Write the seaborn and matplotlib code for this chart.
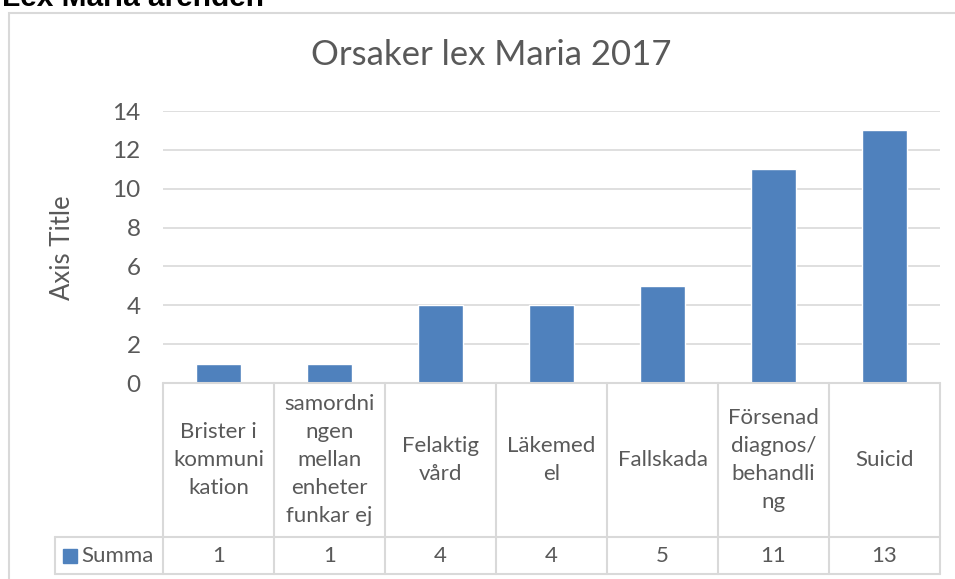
import seaborn as sns
import matplotlib.pyplot as plt
import matplotlib.patches as mpatches
from matplotlib.transforms import blended_transform_factory

# Data
kategorier = ["Brister i\nkommuni\nkation",
              "samordni\nngen\nmellan\nenheter\nfunkar ej",
              "Felaktig\nvård",
              "Läkemed\nel",
              "Fallskada",
              "Försenad\ndiagnos/\nbehandli\nng",
              "Suicid"]
summa = [1, 1, 4, 4, 5, 11, 13]
serie_namn = "Summa"
y_ticks = [0, 2, 4, 6, 8, 10, 12, 14]

W, H = 955, 579
bar_color = "#4f81bd"
text_color = "#595959"
line_color = "#d9d9d9"

sns.set_theme(style="white")
plt.rcParams['font.family'] = ['Lato', 'DejaVu Sans']

fig = plt.figure(figsize=(W / 100, H / 100), dpi=100)

def fx(px):
    return px / W

def fy(py):
    return 1 - py / H

# Chart frame
fig.add_artist(mpatches.Rectangle((fx(9), fy(700)), fx(1000), fy(13) - fy(700),
                                  transform=fig.transFigure, fill=False,
                                  edgecolor=line_color, lw=1.5))

# Header above the chart (partially cut off)
fig.text(fx(2), fy(6), "Lex Maria ärenden", fontsize=21.5, weight="bold",
         family=["Liberation Sans", "DejaVu Sans"], color="black", va="baseline")

ax = fig.add_axes([fx(163), fy(383), fx(940) - fx(163), fy(111) - fy(383)])
sns.barplot(x=list(range(len(summa))), y=summa, color=bar_color, saturation=1,
            width=0.4, ax=ax)
ax.set_xlim(-0.5, len(summa) - 0.5)
ax.set_ylim(0, 14)
ax.set_yticks(y_ticks)
ax.set_yticklabels([str(t) for t in y_ticks], color=text_color, fontsize=17.5)
ax.set_xticks([])
ax.set_xlabel("")
ax.set_ylabel("")
ax.tick_params(axis="y", length=0, pad=16)
ax.yaxis.grid(True, color=line_color, lw=1.2)
ax.set_axisbelow(True)
for s in ["left", "right", "top", "bottom"]:
    ax.spines[s].set_visible(False)

fig.text(fx(62), (fy(200) + fy(295)) / 2, "Axis Title", rotation=90, fontsize=18.5,
         color=text_color, ha="center", va="center")
fig.text(fx(491), fy(55), "Orsaker lex Maria 2017", fontsize=25, color=text_color,
         ha="center", va="center")

# Data table under the chart
tr = blended_transform_factory(ax.transData, fig.transFigure)
n = len(summa)
top, mid, bot = fy(383), fy(537), fy(574)
for i in range(n + 1):
    xb = i - 0.5
    ax.plot([xb, xb], [top, bot], transform=tr, color=line_color, lw=1.5, clip_on=False)
ax.plot([-0.5, n - 0.5], [top, top], transform=tr, color=line_color, lw=1.5, clip_on=False)
fig.add_artist(plt.Line2D([fx(55), fx(940)], [mid, mid], color=line_color, lw=1.5))
fig.add_artist(plt.Line2D([fx(55), fx(940)], [bot, bot], color=line_color, lw=1.5))
fig.add_artist(plt.Line2D([fx(55), fx(55)], [mid, bot], color=line_color, lw=1.5))

for i, (lab, v) in enumerate(zip(kategorier, summa)):
    ax.text(i, (top + mid) / 2, lab, transform=tr, ha="center", va="center",
            fontsize=16, color=text_color, linespacing=1.5, clip_on=False)
    ax.text(i, (mid + bot) / 2, str(v), transform=tr, ha="center", va="center",
            fontsize=16, color=text_color, clip_on=False)

fig.add_artist(mpatches.Rectangle((fx(63), fy(563)), fx(14), fy(549) - fy(563),
                                  transform=fig.transFigure, color=bar_color))
fig.text(fx(81), (mid + bot) / 2, serie_namn, fontsize=16, color=text_color,
         ha="left", va="center")

fig.savefig("out.png", dpi=100)
